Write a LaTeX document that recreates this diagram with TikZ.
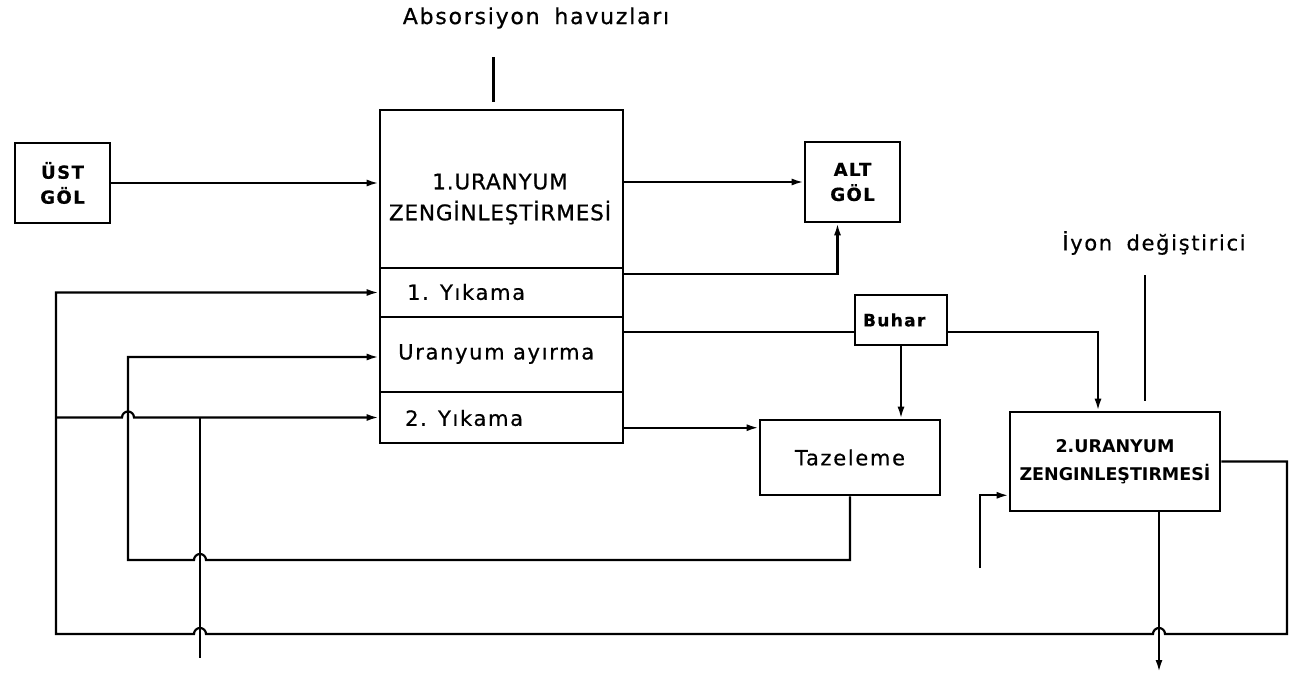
\documentclass[tikz,border=0pt]{standalone}
\usepackage{fontspec}
\setmainfont{DejaVu Sans}
\newfontfamily\lbl{DejaVu Sans}[LetterSpace=8,FakeBold=0.6]
\newfontfamily\capl{DejaVu Sans}[LetterSpace=4,FakeBold=0.8]
\usetikzlibrary{arrows.meta,calc}
\begin{document}
\begin{tikzpicture}[x=1pt,y=-1pt,
  box/.style={draw,line width=2.6pt,rectangle,inner sep=0pt},
  conn/.style={line width=2.2pt},
  arr/.style={conn,-{Latex[length=12pt,width=7pt]}},
  txt/.style={inner sep=0pt,align=center},
  lowtxt/.style={txt,font=\lbl\fontsize{21}{28}\selectfont},
  lakefont/.style={font=\lbl\bfseries\fontsize{18}{25}\selectfont}]
\useasboundingbox (0,0) rectangle (1290,676);

% boxes
\node[box,minimum width=95pt,minimum height=80pt,align=center,lakefont] (ust) at (62.5,183) {ÜST\\GÖL};
\node[box,minimum width=243pt,minimum height=158pt] (top) at (501.5,189) {};
\node[box,minimum width=243pt,minimum height=49pt] (yik1) at (501.5,292.5) {};
\node[box,minimum width=243pt,minimum height=75pt] (ayir) at (501.5,354.5) {};
\node[box,minimum width=243pt,minimum height=51pt] (yik2) at (501.5,417.5) {};
\node[box,minimum width=95pt,minimum height=80pt,align=center,lakefont] (alt) at (852.5,182) {ALT\\GÖL};
\node[box,minimum width=92pt,minimum height=50pt,text width=76pt,inner xsep=8pt,align=left,font=\lbl\bfseries\fontsize{17}{20}\selectfont] (buhar) at (901,320) {Buhar};
\node[box,minimum width=180pt,minimum height=75pt,font=\lbl\fontsize{21}{26}\selectfont] (taz) at (850,457.5) {Tazeleme};
\node[box,minimum width=210pt,minimum height=99pt,align=center,font=\bfseries\fontsize{17.5}{28}\selectfont] (ur2) at (1115,461.5) {2.URANYUM\\ZENGINLEŞTIRMESİ};

% texts
\node[txt,font=\capl\fontsize{21.5}{31}\selectfont] (topt) at (500,199) {1.URANYUM\\ZENGİNLEŞTİRMESİ};
\node[lowtxt,anchor=west] (yik1t) at (407,292) {1. Yıkama};
\node[lowtxt,anchor=west] (ayirt) at (398,354) {Uranyum ayırma};
\node[lowtxt,anchor=west] (yik2t) at (405,418) {2. Yıkama};
\node[txt,font=\lbl\fontsize{22}{26}\selectfont] (abs) at (536,18) {Absorsiyon\hspace{6pt} havuzları};
\node[lowtxt] (iyon) at (1154,243) {İyon\hspace{6pt} değiştirici};

% feed lines
\draw[conn] ($(top.north)+(-8,-7)$) -- ++(0,-45);
\draw[conn] ($(ur2.north)+(30,-10)$) -- ++(0,-126);

% connectors
\draw[arr] (ust.east) -- (ust.east -| top.west);
\draw[arr] (alt.west -| top.east) -- (alt.west);
\coordinate (a1) at ($(yik1.north east)+(0,7)$);
\draw[arr] (a1) -| ($(alt.south)+(-15,0)$);
\coordinate (bw) at ($(buhar.west)+(0,12)$);
\draw[conn] (bw -| ayir.east) -- (bw);
\draw[arr] ($(buhar.east)+(0,12)$) -| ($(ur2.north)+(-17,0)$);
\draw[arr] (buhar.south) -- (buhar.south |- taz.north);
\coordinate (tw) at ($(taz.north west)+(0,9)$);
\draw[arr] (tw -| yik2.east) -- (tw);

% Tazeleme return to Uranyum ayirma
\draw[arr] (taz.south) -- (taz.south |- 0,560) -- (206,560) arc[start angle=0,end angle=180,radius=6pt]
  -- (128,560) -- (128,357) -- (ayir.west |- 0,357);

% 2. Uranyum outputs
\coordinate (in2) at (980,568);
\draw[arr] (in2) |- ($(ur2.south west)+(0,-17)$);
\coordinate (out2) at (1159,672);
\draw[arr] ($(ur2.south)+(44,0)$) -- (out2);
\draw[arr] (ur2.east) -- (1287,461.5) -- (1287,634) -- (1165,634) arc[start angle=0,end angle=180,radius=6pt]
  -- (206,634) arc[start angle=0,end angle=180,radius=6pt] -- (56,634) -- (56,292.5) -- (yik1.west);
\draw[arr] (56,417.5) -- (122,417.5) arc[start angle=180,end angle=0,radius=6pt] -- (yik2.west);
\coordinate (in1) at (200,658);
\draw[conn] (200,417.5) -- (in1);
\end{tikzpicture}
\end{document}
